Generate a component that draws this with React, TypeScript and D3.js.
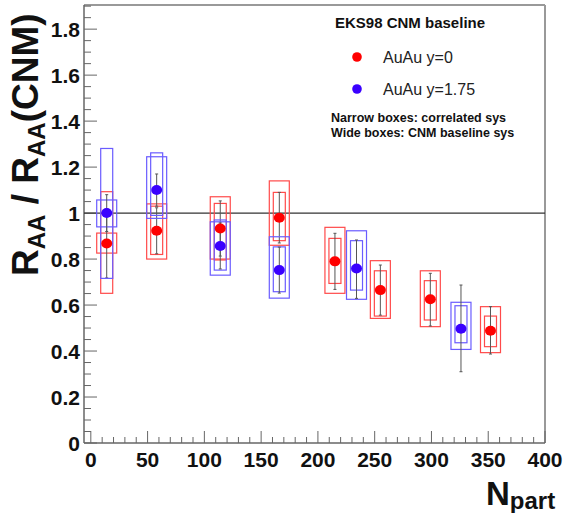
import React from "react";
import * as d3 from "d3";

// ---- data ----
const redNpart = [14, 58, 114, 166, 215, 255, 299, 352];
const redValue = [0.868, 0.923, 0.933, 0.98, 0.79, 0.665, 0.625, 0.488];
const redStatLo = [0.718, 0.823, 0.813, 0.87, 0.668, 0.556, 0.509, 0.387];
const redStatHi = [1.018, 1.023, 1.053, 1.09, 0.912, 0.774, 0.738, 0.593];
const redCorrLo = [0.651, 0.82, 0.796, 0.88, 0.694, 0.552, 0.535, 0.419];
const redCorrHi = [1.093, 1.03, 1.042, 1.09, 0.89, 0.749, 0.706, 0.552];
const redCnmLo = [0.826, 0.8, 0.8, 0.86, 0.651, 0.542, 0.506, 0.393];
const redCnmHi = [0.913, 1.04, 1.071, 1.14, 0.938, 0.793, 0.749, 0.593];

const blueNpart = [14, 58, 114, 166, 234, 326];
const blueValue = [1.0, 1.1, 0.857, 0.752, 0.759, 0.497];
const blueStatLo = [0.92, 1.03, 0.757, 0.652, 0.629, 0.31];
const blueStatHi = [1.08, 1.17, 0.957, 0.852, 0.883, 0.687];
const blueCorrLo = [0.716, 0.99, 0.752, 0.658, 0.665, 0.436];
const blueCorrHi = [1.281, 1.262, 0.97, 0.853, 0.88, 0.597];
const blueCnmLo = [0.94, 0.977, 0.73, 0.63, 0.625, 0.407];
const blueCnmHi = [1.057, 1.245, 0.962, 0.897, 0.923, 0.612];

const xTicks = [0, 50, 100, 150, 200, 250, 300, 350, 400];
const yTicks = [0, 0.2, 0.4, 0.6, 0.8, 1, 1.2, 1.4, 1.6, 1.8];
const yTickLabels = ["0", "0.2", "0.4", "0.6", "0.8", "1", "1.2", "1.4", "1.6", "1.8"];

const legendTitle = "EKS98 CNM baseline";
const legendRed = "AuAu y=0";
const legendBlue = "AuAu y=1.75";
const note1 = "Narrow boxes: correlated sys";
const note2 = "Wide boxes: CNM baseline sys";

const RED = "#ff0000";
const RED_BOX = "#ff4a4a";
const BLUE = "#3a00ff";
const BLUE_BOX = "#6a5cff";

const FONT = "'Liberation Sans', Arial, Helvetica, sans-serif";

export default function App() {
  const L = 84, R = 545, T = 5, B = 443;
  const x = d3.scaleLinear().domain([-6, 400]).range([L, R]);
  const y = d3.scaleLinear().domain([0, 1.905]).range([B, T]);

  const yMinor = d3.range(0, 1.9001, 0.05);
  const xMinor = d3.range(0, 400.001, 10);

  const wideW = 20, narrowW = 12;

  const series = (
    np: number[], val: number[], sLo: number[], sHi: number[],
    cLo: number[], cHi: number[], wLo: number[], wHi: number[],
    boxColor: string, key: string
  ) =>
    np.map((n, i) => {
      const cx = x(n);
      return (
        <g key={key + i}>
          <rect x={cx - wideW / 2} y={y(wHi[i])} width={wideW} height={y(wLo[i]) - y(wHi[i])}
            fill="none" stroke={boxColor} strokeWidth={1.2} />
          <rect x={cx - narrowW / 2} y={y(cHi[i])} width={narrowW} height={y(cLo[i]) - y(cHi[i])}
            fill="none" stroke={boxColor} strokeWidth={1.2} />
          <line x1={cx} x2={cx} y1={y(sHi[i])} y2={y(sLo[i])} stroke="#555" strokeWidth={1} />
          <line x1={cx - 1.5} x2={cx + 1.5} y1={y(sHi[i])} y2={y(sHi[i])} stroke="#555" strokeWidth={1} />
          <line x1={cx - 1.5} x2={cx + 1.5} y1={y(sLo[i])} y2={y(sLo[i])} stroke="#555" strokeWidth={1} />
        </g>
      );
    });

  const dots = (np: number[], val: number[], color: string, key: string) =>
    np.map((n, i) => (
      <ellipse key={key + i} cx={x(n)} cy={y(val[i])} rx={5.5} ry={5} fill={color} />
    ));

  return (
    <svg width={578} height={513} style={{ position: "absolute", left: 0, top: 0, background: "#fff" }}
      fontFamily={FONT}>
      <rect x={0} y={0} width={578} height={513} fill="#fff" />
      {/* frame */}
      <line x1={L} x2={R} y1={T} y2={T} stroke="#999" strokeWidth={2} />
      <line x1={R} x2={R} y1={T} y2={B} stroke="#999" strokeWidth={2} />
      <line x1={L} x2={L} y1={T} y2={B} stroke="#666" strokeWidth={1.5} />
      <line x1={L} x2={R} y1={B} y2={B} stroke="#666" strokeWidth={1.5} />

      {/* y ticks */}
      {yMinor.map((v, i) => {
        const major = i % 4 === 0;
        return (
          <line key={"ym" + i} x1={L} x2={L + (major ? 13 : 7)} y1={y(v)} y2={y(v)}
            stroke="#666" strokeWidth={1} />
        );
      })}
      {yTicks.map((v, i) => (
        <text key={"yl" + i} x={80} y={y(v)} dy="0.36em" textAnchor="end"
          fontSize={21} fontWeight="bold" fill="#111">{yTickLabels[i]}</text>
      ))}

      {/* x ticks */}
      {xMinor.map((v, i) => {
        const major = i % 5 === 0;
        return (
          <line key={"xm" + i} x1={x(v)} x2={x(v)} y1={B} y2={B - (major ? 12 : 6)}
            stroke="#666" strokeWidth={1} />
        );
      })}
      {xTicks.map((v, i) => (
        <text key={"xl" + i} x={x(v)} y={467} textAnchor="middle"
          fontSize={21} fontWeight="bold" fill="#111">{String(v)}</text>
      ))}

      {/* reference line */}
      <line x1={L} x2={R} y1={y(1)} y2={y(1)} stroke="#333" strokeWidth={1.3} />

      {series(redNpart, redValue, redStatLo, redStatHi, redCorrLo, redCorrHi, redCnmLo, redCnmHi, RED_BOX, "r")}
      {series(blueNpart, blueValue, blueStatLo, blueStatHi, blueCorrLo, blueCorrHi, blueCnmLo, blueCnmHi, BLUE_BOX, "b")}
      {dots(redNpart, redValue, RED, "rd")}
      {dots(blueNpart, blueValue, BLUE, "bd")}

      {/* legend */}
      <text x={335} y={28} fontSize={15} fontWeight="bold" fill="#111">{legendTitle}</text>
      <circle cx={357} cy={57} r={4.8} fill={RED} />
      <text x={383} y={63} fontSize={16} fill="#222">{legendRed}</text>
      <circle cx={357} cy={89} r={4.8} fill={BLUE} />
      <text x={383} y={95} fontSize={16} fill="#222">{legendBlue}</text>
      <text x={331} y={122} fontSize={12.5} fontWeight="bold" fill="#111">{note1}</text>
      <text x={331} y={137} fontSize={12.5} fontWeight="bold" fill="#111">{note2}</text>

      {/* y axis title */}
      <text transform="translate(38,276) rotate(-90)" fontSize={37} fontWeight="bold" fill="#111">
        <tspan>R</tspan>
        <tspan fontSize={24} dy={7}>AA</tspan>
        <tspan dy={-7}> / R</tspan>
        <tspan fontSize={24} dy={7}>AA</tspan>
        <tspan dy={-7}>(CNM)</tspan>
      </text>

      {/* x axis title */}
      <text x={486} y={505} fontSize={33} fontWeight="bold" fill="#111">
        <tspan>N</tspan>
        <tspan fontSize={24} dy={4}>part</tspan>
      </text>
    </svg>
  );
}
